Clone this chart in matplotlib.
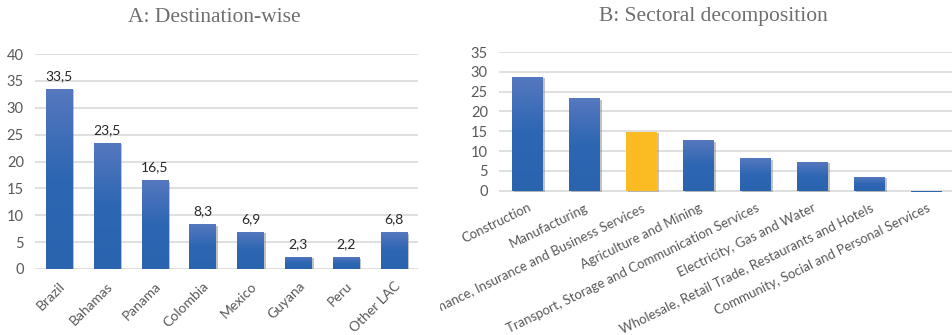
import numpy as np
import matplotlib
matplotlib.use("Agg")
import matplotlib.pyplot as plt
from matplotlib.patches import Rectangle
import matplotlib.patheffects as pe
from matplotlib.colors import LinearSegmentedColormap

# Panel A: destination-wise
dest_names = ["Brazil", "Bahamas", "Panama", "Colombia", "Mexico", "Guyana", "Peru", "Other LAC"]
dest_values = [33.5, 23.5, 16.5, 8.3, 6.9, 2.3, 2.2, 6.8]

# Panel B: sectoral decomposition
sector_names = ["Construction", "Manufacturing", "Finance, Insurance and Business Services",
                "Agriculture and Mining", "Transport, Storage and Communication Services",
                "Electricity, Gas and Water", "Wholesale, Retail Trade, Restaurants and Hotels",
                "Community, Social and Personal Services"]
sector_values = [28.8, 23.3, 14.9, 12.7, 8.2, 7.2, 3.5, -0.4]
highlight = 2

W, H = 953, 335
TICK_COLOR = "#595959"
GRID_COLOR = "#d9d9d9"
blue_grad = LinearSegmentedColormap.from_list("bg", ["#2a63ae", "#2d66b2", "#5678bf"])

fig = plt.figure(figsize=(W / 100, H / 100), dpi=100)


def px_axes(x0, x1, y_top, y_bot):
    return fig.add_axes([x0 / W, 1 - y_bot / H, (x1 - x0) / W, (y_bot - y_top) / H])


def gradient_bars(ax, bars, skip=()):
    grad = np.linspace(0, 1, 256).reshape(-1, 1)
    for i, b in enumerate(bars):
        if b.get_height() > 1:
            b.set_path_effects([pe.SimplePatchShadow(offset=(1.5, -1), shadow_rgbFace="#888888", alpha=0.5),
                                pe.Normal()])
        else:
            continue
        if i in skip:
            continue
        x, y = b.get_x(), b.get_y()
        w, h = b.get_width(), b.get_height()
        im = ax.imshow(grad, cmap=blue_grad, aspect="auto", origin="lower",
                       extent=(x, x + w, y, y + h), zorder=3)
        im.set_clip_path(b)


def style_axes(ax, ymax, step):
    ax.set_ylim(0, ymax)
    ax.set_yticks(np.arange(0, ymax + 1, step))
    for s in ax.spines.values():
        s.set_visible(False)
    ax.grid(axis="y", color=GRID_COLOR, linewidth=1.2, zorder=0)
    ax.set_axisbelow(True)
    ax.tick_params(axis="both", length=0, colors=TICK_COLOR)
    ax.tick_params(axis="y", pad=8, labelsize=10.5)
    for lab in ax.get_yticklabels() + ax.get_xticklabels():
        lab.set_fontfamily("Lato")


# ---------- A ----------
axA = px_axes(35, 418, 54, 269)
xa = np.arange(len(dest_names))
barsA = axA.bar(xa, dest_values, width=0.55, color="#3b6cb6", zorder=2)
gradient_bars(axA, barsA)
axA.set_xlim(-0.5, len(dest_names) - 0.5)
axA.set_xticks(xa)
axA.set_xticklabels(dest_names, rotation=45, ha="right", rotation_mode="anchor")
style_axes(axA, 40, 5)
axA.tick_params(axis="x", pad=8, labelsize=10)
for x, v in zip(xa, dest_values):
    axA.annotate(f"{v:.1f}".replace(".", ","), (x, v), xytext=(0, 5), textcoords="offset points",
                 ha="center", va="bottom", fontsize=10, color="#262626", family="Lato")
fig.text(214 / W, 1 - 17 / H, "A: Destination-wise", ha="center", va="center",
         fontsize=15.5, color="#6e6e6e", family="Liberation Serif")

# ---------- B ----------
axB = px_axes(499, 955, 52, 193)
xb = np.arange(len(sector_names))
colors = ["#3b6cb6"] * len(sector_names)
colors[highlight] = "#fbbc23"
colors[-1] = "#2d66b2"
barsB = axB.bar(xb, sector_values, width=0.53, color=colors, zorder=2)
gradient_bars(axB, barsB, skip=(highlight,))
axB.set_xlim(-0.5, len(sector_names) - 0.5)
axB.set_xticks(xb)
axB.set_xticklabels(sector_names, rotation=26, ha="right", rotation_mode="anchor")
style_axes(axB, 35, 5)
axB.set_ylim(-0.6, 35)
axB.tick_params(axis="x", pad=6, labelsize=9.5)
clip = Rectangle((440 / W, 0), 1, 1, transform=fig.transFigure, visible=False)
fig.add_artist(clip)
for lab in axB.get_xticklabels():
    lab.set_clip_on(True)
    lab.set_clip_path(clip)
fig.text(713 / W, 1 - 17 / H, "B: Sectoral decomposition", ha="center", va="center",
         fontsize=15.5, color="#6e6e6e", family="Liberation Serif")

fig.savefig("out.png", dpi=100)
